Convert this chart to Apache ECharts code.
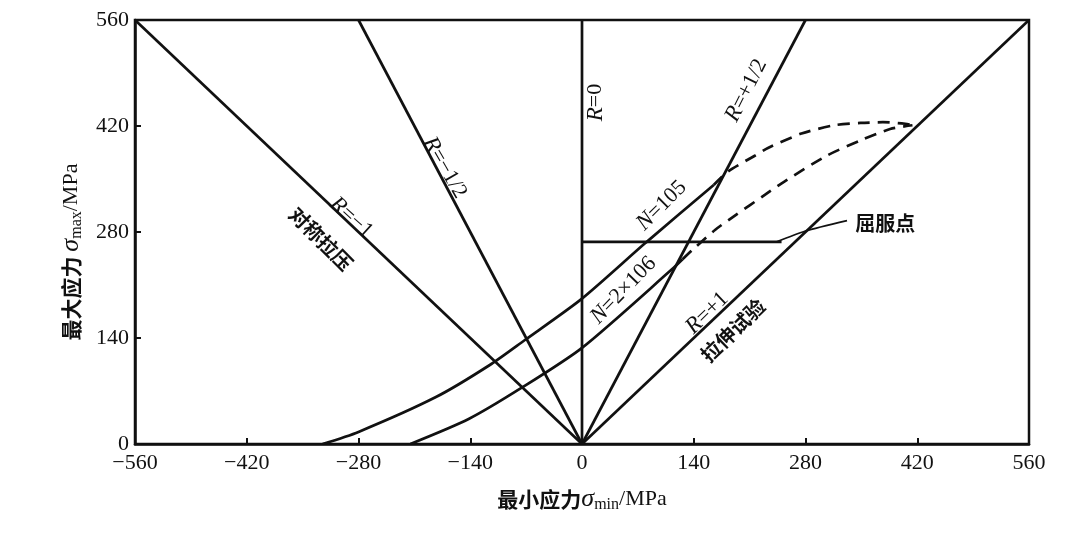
<!DOCTYPE html>
<html>
<head>
<meta charset="utf-8">
<script src="https://cdn.jsdelivr.net/npm/echarts@6/dist/echarts.min.js"></script>
<style>
html,body{margin:0;padding:0;background:#fff;}
#chart{width:1080px;height:536px;}
</style>
</head>
<body>
<div id="chart"></div>
<script>
// ---- axis ranges ----
const xMin = -560, xMax = 560, xStep = 140;
const yMin = 0, yMax = 560, yStep = 140;

// ---- stress-ratio lines (σmin, σmax) ----
const rMinus1    = [[-560, 560], [0, 0]];
const rMinusHalf = [[-280, 560], [0, 0]];
const rZero      = [[0, 0], [0, 560]];
const rPlusHalf  = [[0, 0], [280, 560]];
const rPlus1     = [[0, 0], [560, 560]];

// ---- fatigue curves ----
const n1e5Solid  = [[-325, 0], [-280, 16], [-183, 62], [-116, 104], [-72, 137], [0, 192], [80, 266], [165, 342]];
const n1e5Dashed = [[165, 342], [183, 360], [217, 381], [233, 391], [275, 410], [316, 421], [349, 424], [377, 425], [405, 423], [414, 421]];
const n2e6Solid  = [[-215, 0], [-142, 33], [-76, 74], [0, 127], [113, 231], [126, 244]];
const n2e6Dashed = [[126, 244], [139, 257], [167, 283], [192, 302], [229, 329], [254, 347], [307, 381], [349, 401], [386, 416], [414, 421]];

// ---- yield point ----
const yieldLine   = [[0, 267], [250, 267]];
const yieldLeader = [[244, 267], [279, 281], [332, 295]];

// ---- text annotations: [σmin, σmax] anchor, text, rotation ----
const annoLatin = [
  {pos: [-289, 299], sym: 'R', rest: '=−1',    rot: -42},
  {pos: [-172, 365], sym: 'R', rest: '=−1/2',  rot: -60},
  {pos: [17, 451],   sym: 'R', rest: '=0',     rot: 90},
  {pos: [206, 467],  sym: 'R', rest: '=+1/2',  rot: 63},
  {pos: [100, 315],  sym: 'N', rest: '=105',   rot: 45},
  {pos: [52, 203],   sym: 'N', rest: '=2×106', rot: 46},
  {pos: [157, 173],  sym: 'R', rest: '=+1',    rot: 44}
];
const annoCJK = [
  {pos: [-327, 271], text: '对称拉压', rot: -45},
  {pos: [189, 150],  text: '拉伸试验', rot: 44},
  {pos: [380, 291],  text: '屈服点',   rot: 0}
];

const INK = '#111';
const SERIF = '"Liberation Serif", "DejaVu Serif", serif';
const CJK = '"Noto Sans CJK SC", sans-serif';

function lineSeries(data, dashed) {
  return {
    type: 'line', data: data, showSymbol: false, silent: true,
    smooth: 0.25,
    lineStyle: {color: INK, width: 2.7, type: dashed ? [12, 8] : 'solid', cap: 'butt'},
    z: 3
  };
}

const chart = echarts.init(document.getElementById('chart'));

const labelPoints = [];
annoLatin.forEach(a => labelPoints.push({
  value: a.pos,
  label: {show: true, position: 'inside', rotate: a.rot,
    formatter: '{i|' + a.sym + '}{n|' + a.rest + '}',
    textBorderWidth: 0, opacity: 1,
    rich: {
      i: {fontFamily: SERIF, fontStyle: 'italic', fontSize: 23, color: INK, textBorderWidth: 0},
      n: {fontFamily: SERIF, fontSize: 22, color: INK, textBorderWidth: 0}
    }}
}));
annoCJK.forEach(a => labelPoints.push({
  value: a.pos,
  label: {show: true, position: 'inside', rotate: a.rot, formatter: a.text,
    textBorderWidth: 0, opacity: 1,
    fontFamily: CJK, fontWeight: 'bold', fontSize: 20, color: INK}
}));

const nameRich = {
  c: {fontFamily: CJK, fontWeight: 'bold', fontSize: 21, color: INK, lineHeight: 28},
  g: {fontFamily: SERIF, fontStyle: 'italic', fontSize: 26, color: INK, lineHeight: 28},
  s: {fontFamily: SERIF, fontSize: 16, color: INK, lineHeight: 28, verticalAlign: 'bottom'},
  m: {fontFamily: SERIF, fontSize: 22, color: INK, lineHeight: 28}
};

chart.setOption({
  animation: false,
  backgroundColor: '#fff',
  grid: {left: 135, right: 51, top: 20, bottom: 92, show: true, borderColor: INK, borderWidth: 2.5, backgroundColor: 'transparent'},
  xAxis: {
    type: 'value', min: xMin, max: xMax, interval: xStep,
    name: '{c|最小应力}{g|σ}{s|min}{m|/MPa}', nameLocation: 'middle', nameGap: 41,
    nameTextStyle: {rich: nameRich},
    axisLine: {show: true, onZero: false, lineStyle: {color: INK, width: 2.5}},
    axisTick: {show: true, inside: true, length: 6, lineStyle: {color: INK, width: 2}},
    axisLabel: {margin: 8, fontFamily: SERIF, fontSize: 22, color: INK,
      formatter: v => v < 0 ? '−' + Math.abs(v) : String(v)},
    splitLine: {show: false}
  },
  yAxis: {
    type: 'value', min: yMin, max: yMax, interval: yStep,
    name: '{c|最大应力 }{g|σ}{s|max}{m|/MPa}', nameLocation: 'middle', nameGap: 50, nameRotate: 90,
    nameTextStyle: {rich: nameRich, padding: [0, 40, 0, 0]},
    axisLine: {show: true, onZero: false, lineStyle: {color: INK, width: 2.5}},
    axisTick: {show: true, inside: true, length: 6, lineStyle: {color: INK, width: 2}},
    axisLabel: {margin: 6, fontFamily: SERIF, fontSize: 22, color: INK},
    splitLine: {show: false}
  },
  series: [
    lineSeries(rMinus1), lineSeries(rMinusHalf), lineSeries(rZero),
    lineSeries(rPlusHalf), lineSeries(rPlus1),
    lineSeries(n1e5Solid), lineSeries(n1e5Dashed, true),
    lineSeries(n2e6Solid), lineSeries(n2e6Dashed, true),
    Object.assign(lineSeries(yieldLine), {smooth: false}),
    Object.assign(lineSeries(yieldLeader), {lineStyle: {color: INK, width: 1.8}}),
    {type: 'scatter', data: labelPoints, symbolSize: 0, silent: true, z: 5,
      itemStyle: {color: INK}}
  ]
});
</script>
</body>
</html>
